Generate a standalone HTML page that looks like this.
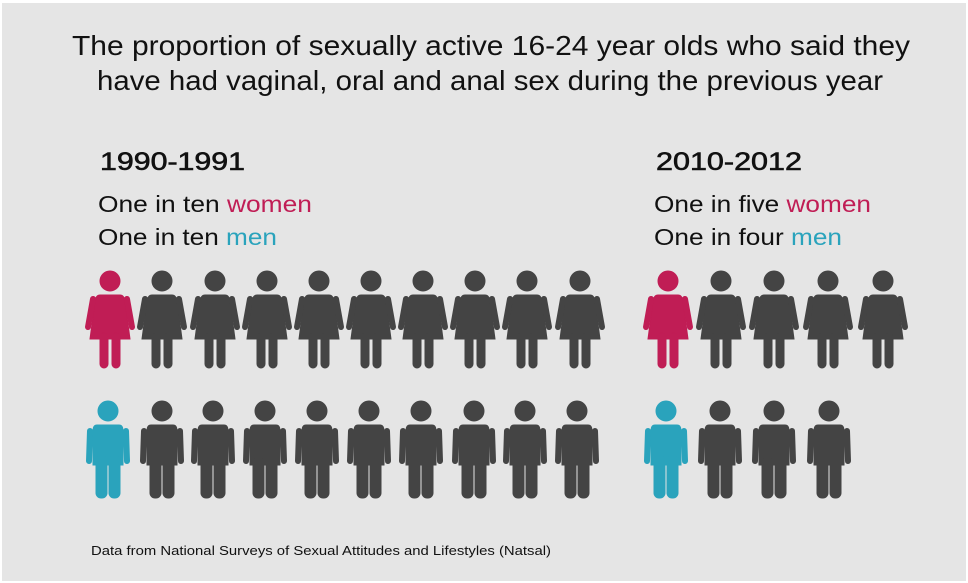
<!DOCTYPE html>
<html><head><meta charset="utf-8"><style>
html,body{margin:0;padding:0;background:#fff}
svg{display:block}
</style></head><body>
<svg width="968" height="583" viewBox="0 0 968 583" xmlns="http://www.w3.org/2000/svg" font-family="Liberation Sans, sans-serif">
<defs>
<g id="w">
<circle cx="0" cy="10" r="10"/>
<path d="M-10,24 H10 Q14,24 15,30 L20,68 H-20 L-15,30 Q-14,24 -10,24 Z"/>
<line x1="-17" y1="28" x2="-22" y2="56" stroke-width="6" stroke-linecap="round"/>
<line x1="17" y1="28" x2="22" y2="56" stroke-width="6" stroke-linecap="round"/>
<rect x="-10" y="62" width="8" height="35" rx="4"/>
<rect x="2" y="62" width="8" height="35" rx="4"/>
</g>
<g id="m">
<circle cx="0" cy="10" r="10"/>
<path d="M-11,24 H11 Q15,24 15,30 V64 H-15 V30 Q-15,24 -11,24 Z"/>
<line x1="-18" y1="30" x2="-19" y2="60" stroke-width="6" stroke-linecap="round"/>
<line x1="18" y1="30" x2="19" y2="60" stroke-width="6" stroke-linecap="round"/>
<rect x="-12" y="55" width="11" height="42" rx="5"/>
<rect x="1" y="55" width="11" height="42" rx="5"/>
</g>
</defs>
<rect x="0" y="0" width="968" height="583" fill="#fff"/>
<rect x="2" y="3" width="964" height="578" fill="#e5e5e5"/>
<g fill="#111" font-size="28">
<text x="72" y="55" textLength="838" lengthAdjust="spacingAndGlyphs">The proportion of sexually active 16-24 year olds who said they</text>
<text x="97" y="90" textLength="786" lengthAdjust="spacingAndGlyphs">have had vaginal, oral and anal sex during the previous year</text>
</g>
<g fill="#111">
<text x="100" y="170" font-size="25" stroke="#111" stroke-width="0.6" textLength="145" lengthAdjust="spacingAndGlyphs">1990-1991</text>
<text x="98" y="212" font-size="23" textLength="214" lengthAdjust="spacingAndGlyphs">One in ten <tspan fill="#c01d55">women</tspan></text>
<text x="98" y="245" font-size="23" textLength="179" lengthAdjust="spacingAndGlyphs">One in ten <tspan fill="#2aa3bc">men</tspan></text>
<text x="656" y="170" font-size="25" stroke="#111" stroke-width="0.6" textLength="146" lengthAdjust="spacingAndGlyphs">2010-2012</text>
<text x="654" y="212" font-size="23" textLength="217" lengthAdjust="spacingAndGlyphs">One in five <tspan fill="#c01d55">women</tspan></text>
<text x="654" y="245" font-size="23" textLength="188" lengthAdjust="spacingAndGlyphs">One in four <tspan fill="#2aa3bc">men</tspan></text>
<text x="91" y="555" font-size="13" textLength="460" lengthAdjust="spacingAndGlyphs">Data from National Surveys of Sexual Attitudes and Lifestyles (Natsal)</text>
</g>
<g fill="#c01d55" stroke="#c01d55"><use href="#w" x="110" y="271"/><use href="#w" x="668" y="271"/></g>
<g fill="#444" stroke="#444">
<use href="#w" x="162" y="271"/><use href="#w" x="215" y="271"/><use href="#w" x="267" y="271"/><use href="#w" x="319" y="271"/><use href="#w" x="371" y="271"/><use href="#w" x="423" y="271"/><use href="#w" x="475" y="271"/><use href="#w" x="527" y="271"/><use href="#w" x="580" y="271"/>
<use href="#w" x="721" y="271"/><use href="#w" x="774" y="271"/><use href="#w" x="828" y="271"/><use href="#w" x="883" y="271"/>
</g>
<g fill="#2aa3bc" stroke="#2aa3bc"><use href="#m" x="108" y="401"/><use href="#m" x="666" y="401"/></g>
<g fill="#444" stroke="#444">
<use href="#m" x="162" y="401"/><use href="#m" x="213" y="401"/><use href="#m" x="265" y="401"/><use href="#m" x="317" y="401"/><use href="#m" x="369" y="401"/><use href="#m" x="421" y="401"/><use href="#m" x="474" y="401"/><use href="#m" x="525" y="401"/><use href="#m" x="577" y="401"/>
<use href="#m" x="720" y="401"/><use href="#m" x="774" y="401"/><use href="#m" x="829" y="401"/>
</g>
</svg>
</body></html>
